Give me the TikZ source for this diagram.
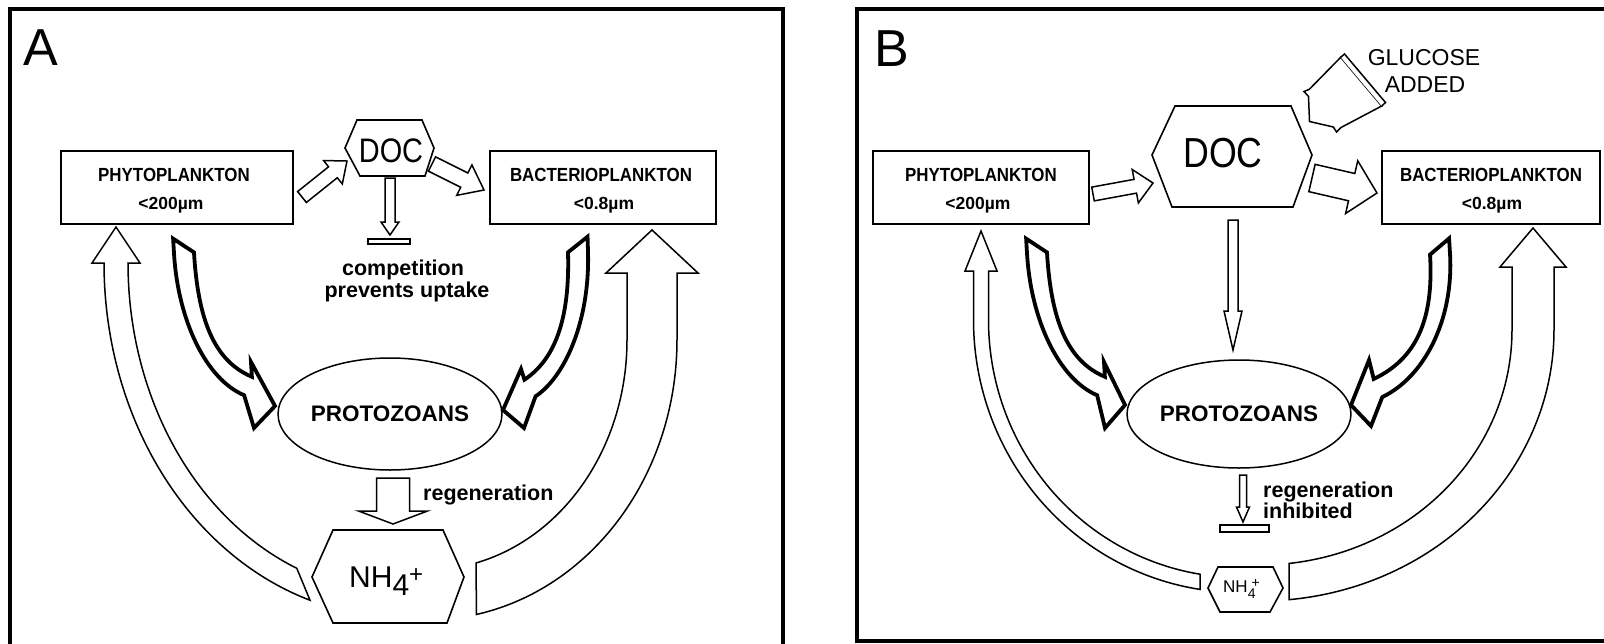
\documentclass[tikz,border=0pt]{standalone}
\usepackage{fontspec}
\setmainfont{Liberation Sans}
\newfontfamily\narrowfont{Liberation Sans}[FakeStretch=0.89]
\newfontfamily\docfont{Liberation Sans}[FakeStretch=0.85]
\usetikzlibrary{calc,shapes.geometric}

\tikzset{
 panelframe/.style={line width=3.5pt},
 plbox/.style={draw, line width=1.5pt, minimum width=#1, minimum height=73pt, inner sep=0pt},
 hollow/.style={draw, fill=white, line width=1.5pt, line join=miter},
 fatarrow/.style={draw, fill=white, line width=3.8pt, line join=miter},
 hex/.style={draw, line width=1.6pt, line join=miter},
 prot/.style={ellipse, draw, line width=1.5pt, inner sep=0pt, font=\bfseries\fontsize{22.5}{24}\selectfont},
 lbl/.style={inner sep=0pt, anchor=base},
 boxtxt/.style={lbl, font=\narrowfont\bfseries\fontsize{19}{21}\selectfont},
 sizetxt/.style={lbl, font=\bfseries\fontsize{17.5}{20}\selectfont},
 notetxt/.style={inner sep=0pt, font=\bfseries\fontsize{21.5}{24}\selectfont},
 doctxtA/.style={lbl, font=\docfont\fontsize{34}{36}\selectfont},
 doctxtB/.style={lbl, font=\docfont\fontsize{42}{44}\selectfont},
 panel/.style={inner sep=0pt, anchor=base west, font=\fontsize{52}{52}\selectfont},
 gluc/.style={lbl, font=\fontsize{23}{25}\selectfont},
 nhA/.style={inner sep=0pt, anchor=base west, font=\fontsize{30}{30}\selectfont},
 nhB/.style={inner sep=0pt, anchor=base west, font=\fontsize{17}{17}\selectfont},
}

% straight block arrow: x1,y1,x2,y2,half shaft,half head,head length
\newcommand\blockarrow[7]{%
 \pgfmathsetmacro\baang{atan2((#4)-(#2),(#3)-(#1))}%
 \pgfmathsetmacro\balen{veclen((#3)-(#1),(#4)-(#2))}%
 \pgfmathsetmacro\babase{\balen-(#7)}%
 \begin{scope}[shift={(#1,#2)},rotate=-\baang]
  \draw[hollow] (0,#5) -- (\babase,#5) -- (\babase,#6) -- (\balen,0) -- (\babase,-#6) -- (\babase,-#5) -- (0,-#5) -- cycle;
 \end{scope}}

% bent block arrow: style, P0, P1, P2, P3, half width, tail skew, head path
\newcommand\bentarrow[8]{%
 \coordinate (ba0) at (#2);
 \coordinate (ba1) at (#3);
 \coordinate (ba2) at (#4);
 \coordinate (ba3) at (#5);
 \coordinate (bp0) at ($(ba0)!#6pt!90:(ba1)$);
 \coordinate (bm0) at ($(ba0)!#6pt!-90:(ba1)$);
 \coordinate (bp1) at ($(ba1)+(bp0)-(ba0)$);
 \coordinate (bm1) at ($(ba1)+(bm0)-(ba0)$);
 \coordinate (bp3) at ($(ba3)!#6pt!-90:(ba2)$);
 \coordinate (bm3) at ($(ba3)!#6pt!90:(ba2)$);
 \coordinate (bp2) at ($(ba2)+(bp3)-(ba3)$);
 \coordinate (bm2) at ($(ba2)+(bm3)-(ba3)$);
 \pgfmathsetmacro\eA{max(#7,0)}%
 \pgfmathsetmacro\eB{max(-(#7),0)}%
 \coordinate (bps) at ($(bp0)!-\eA pt!(bp1)$);
 \coordinate (bms) at ($(bm0)!-\eB pt!(bm1)$);
 \draw[#1] (bps) -- (bp0) .. controls (bp1) and (bp2) .. (bp3) -- #8 -- (bm3) .. controls (bm2) and (bm1) .. (bm0) -- (bms) -- cycle;
}

\begin{document}
\begin{tikzpicture}[x=1pt,y=-1pt]
\useasboundingbox (0,0) rectangle (1604,643);
\clip (0,0) rectangle (1604,643);
\fill[white] (0,0) rectangle (1604,643);

% frames
\draw[panelframe] (10,650) -- (10,9) -- (783,9) -- (783,650);
\draw[panelframe] (1612,641) -- (857,641) -- (857,9) -- (1612,9);

%%%%%%%%%%%%%%%% Panel A
\node[panel] (labA) at (23,65) {A};
\node[plbox=232pt] (phA) at (177,187.5) {};
\node[boxtxt] (phAt) at (174,181) {PHYTOPLANKTON};
\node[sizetxt] (phAs) at (171,209) {<200µm};
\node[plbox=226pt] (baA) at (603,187.5) {};
\node[boxtxt] (baAt) at (601,181) {BACTERIOPLANKTON};
\node[sizetxt] (baAs) at (604,209) {<0.8µm};

\draw[hex] (345,148) -- (357,120) -- (422,120) -- (434,148) -- (425,176) -- (360,176) -- cycle;
\node[doctxtA] (docA) at (391,162) {DOC};

\blockarrow{302}{197}{347}{161}{7}{15}{18}
\blockarrow{432}{164}{484}{190}{8}{17}{22}
\blockarrow{390}{178}{390}{235}{5}{9}{13}
\draw[hollow] (368,239) rectangle (410,244);
\node[notetxt, anchor=base] (compA) at (403,275) {competition};
\node[notetxt, anchor=base] (prevA) at (407,297) {prevents uptake};

\bentarrow{fatarrow}{184,253}{188,320}{210,370}{248,386}{10}{-15}{(251,362) -- (275,406) -- (254,428)}
\bentarrow{fatarrow}{578,252}{580,320}{560,368}{530,388}{10}{15}{(524,428) -- (503,410) -- (521,369)}

\node[prot, minimum width=194pt, minimum height=112pt] (protA) at (390,414) {PROTOZOANS};

\blockarrow{393}{478}{393}{524}{16.5}{34.5}{13}
\node[notetxt, anchor=base west] (regA) at (423,500) {regeneration};

\draw[hex] (312,577) -- (333,530) -- (443,530) -- (464,577) -- (447,623) -- (333,623) -- cycle;
\node[nhA] (nhA) at (349,587) {NH\raisebox{-8pt}{4}\raisebox{5pt}{\fontsize{24}{24}\selectfont +}};

\draw[hollow] plot[domain=107.7:180, samples=70] ({400+296*cos(\x)},{263+354*sin(\x)})
  -- (92,263) -- (116,227) -- (140,263)
  -- plot[domain=180:112.3, samples=70] ({400+272*cos(\x)},{263+330*sin(\x)}) -- cycle;
\draw[hollow] plot[domain=78.6:0, samples=70] ({427+250*cos(\x)},{340+280*sin(\x)})
  -- (677,273) -- (698,273) -- (652,230) -- (606,273) -- (627,273)
  -- plot[domain=0:75.8, samples=70] ({427+200*cos(\x)},{340+230*sin(\x)}) -- cycle;

%%%%%%%%%%%%%%%% Panel B
\node[panel] (labB) at (874,66) {B};
\node[plbox=216pt] (phB) at (981,187.5) {};
\node[boxtxt] (phBt) at (981,181) {PHYTOPLANKTON};
\node[sizetxt] (phBs) at (978,209) {<200µm};
\node[plbox=218pt] (baB) at (1491,187.5) {};
\node[boxtxt] (baBt) at (1491,181) {BACTERIOPLANKTON};
\node[sizetxt] (baBs) at (1492,209) {<0.8µm};

\draw[hex] (1152,155) -- (1175,106) -- (1291,106) -- (1312,155) -- (1293,207) -- (1172,207) -- cycle;
\node[doctxtB] (docB) at (1223,167) {DOC};

\node[gluc] (glu1) at (1424,65) {GLUCOSE};
\node[gluc] (glu2) at (1425,92) {ADDED};
\draw[hollow] (1340.7,57.3) -- (1309.3,89.3) -- (1304,91.5) -- (1308.5,96.5) -- (1309.5,121.5) -- (1333.3,127) -- (1336.5,132) -- (1341,127.5) -- (1381.7,106) -- cycle;
\draw[hollow] (1340.7,57.3) -- (1344.5,54) -- (1385.5,102.5) -- (1381.7,106);

\blockarrow{1093}{194}{1153}{183}{7}{17}{18}
\blockarrow{1312}{178}{1377}{193}{14}{27}{26}
\blockarrow{1233}{220}{1233}{350}{5}{9}{39}

\bentarrow{fatarrow}{1037,253}{1041,320}{1063,370}{1101,386}{10}{-15}{(1104,362) -- (1125,405) -- (1105,428)}
\bentarrow{fatarrow}{1440,254}{1444,320}{1420,368}{1378,388}{10}{15}{(1371,426) -- (1351,405) -- (1369,360)}

\node[prot, minimum width=188pt, minimum height=108pt] (protB) at (1239,414) {PROTOZOANS};

\blockarrow{1243}{475}{1243}{522}{3.5}{6.5}{15}
\draw[hollow] (1220,525) rectangle (1269,532);
\node[notetxt, anchor=base west] (regB) at (1263,497) {regeneration};
\node[notetxt, anchor=base west] (inhB) at (1263,518) {inhibited};

\draw[hex] (1208,588) -- (1218,567) -- (1273,567) -- (1283,588) -- (1270,612) -- (1220,612) -- cycle;
\node[nhB] (nhB) at (1223,592) {NH\raisebox{-6pt}{\fontsize{14}{14}\selectfont 4}\hspace{-4pt}\raisebox{5pt}{\fontsize{14}{14}\selectfont +}};

\draw[hollow] plot[domain=98.63:180, samples=70] ({1240+266.5*cos(\x)},{320+272.5*sin(\x)})
  -- (973.5,271) -- (965,271) -- (981,231) -- (997,271) -- (988.5,271)
  -- plot[domain=180:99.15, samples=70] ({1240+251.5*cos(\x)},{320+257.5*sin(\x)}) -- cycle;
\draw[hollow] plot[domain=84.34:0, samples=70] ({1260+294*cos(\x)},{330+271*sin(\x)})
  -- (1554,267) -- (1566,267) -- (1533,228) -- (1500,267) -- (1512,267)
  -- plot[domain=0:83.39, samples=70] ({1260+252*cos(\x)},{330+235*sin(\x)}) -- cycle;
\end{tikzpicture}
\end{document}
